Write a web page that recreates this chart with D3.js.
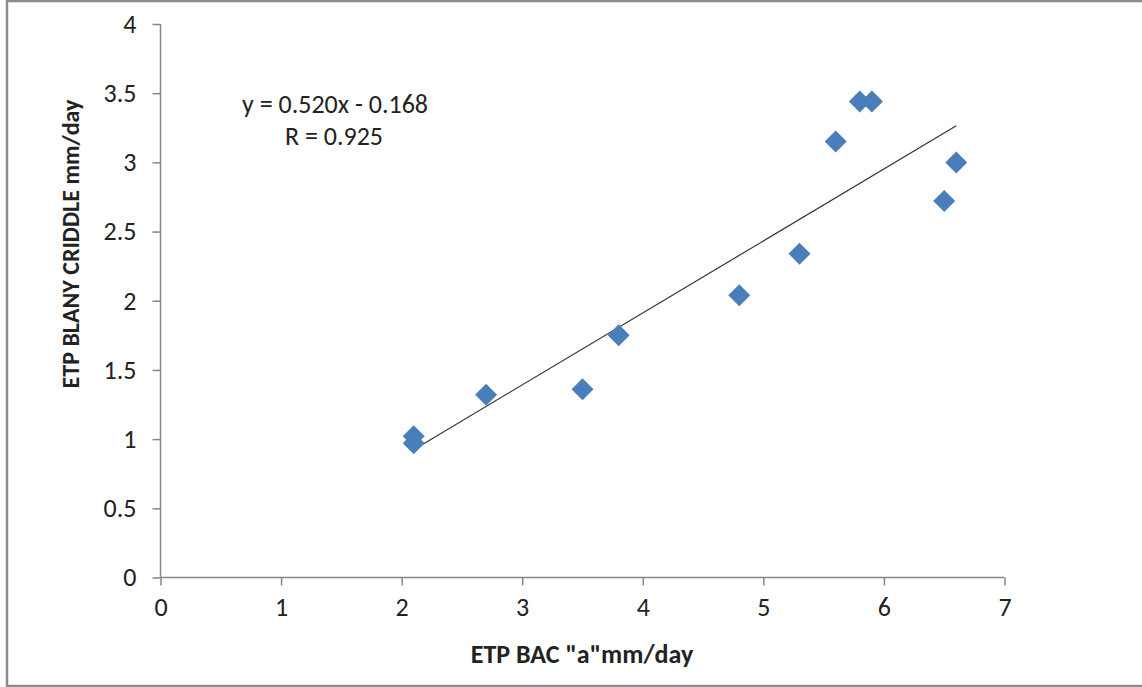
<!DOCTYPE html>
<html>
<head>
<meta charset="utf-8">
<script src="https://cdn.jsdelivr.net/npm/d3@7"></script>
<style>
  body { margin: 0; background: #fff; }
  text { font-family: Carlito, Calibri, Lato, "Liberation Sans", sans-serif; fill: #222; }
</style>
</head>
<body>
<svg id="chart" width="1142" height="687"></svg>
<script>
var xValues = [2.1, 2.1, 2.7, 3.5, 3.8, 4.8, 5.3, 5.6, 5.8, 5.9, 6.5, 6.6];
var yValues = [1.02, 0.97, 1.32, 1.36, 1.75, 2.04, 2.34, 3.15, 3.44, 3.44, 2.72, 3.0];
var xTicks = [0, 1, 2, 3, 4, 5, 6, 7];
var yTicks = [0, 0.5, 1, 1.5, 2, 2.5, 3, 3.5, 4];
var slope = 0.520, intercept = -0.168, rValue = 0.925;

function scatterChart() {
  var svg = d3.select("#chart");
  var plotLeft = 160.5, plotRight = 1004.5, plotTop = 24, plotBottom = 577.5;
  var fontSize = 26;

  // outer frame
  svg.append("rect")
    .attr("x", 7).attr("y", 1)
    .attr("width", 1150).attr("height", 685)
    .attr("fill", "none").attr("stroke", "#8c8c8c").attr("stroke-width", 2.5);

  var x = d3.scaleLinear().domain([0, 7]).range([plotLeft, plotRight]);
  var y = d3.scaleLinear().domain([0, 4]).range([plotBottom, plotTop]);

  var xAxis = d3.axisBottom(x).tickValues(xTicks).tickSize(8).tickPadding(12).tickFormat(d3.format("d"));
  var yAxis = d3.axisLeft(y).tickValues(yTicks).tickSize(8).tickPadding(16).tickFormat(function(d) { return String(d); });

  var gx = svg.append("g").attr("transform", "translate(0," + plotBottom + ")").call(xAxis);
  var gy = svg.append("g").attr("transform", "translate(" + plotLeft + ",0)").call(yAxis);

  [gx, gy].forEach(function(g) {
    g.attr("font-family", null);
    g.selectAll("path").attr("stroke", "#868686").attr("stroke-width", 1.5);
    g.selectAll("line").attr("stroke", "#868686").attr("stroke-width", 1.5);
    g.selectAll("text").attr("font-size", fontSize).attr("fill", "#222");
  });
  gx.select("path").attr("d", "M" + plotLeft + ",0H" + plotRight);
  gy.select("path").attr("d", "M0," + plotBottom + "V" + plotTop);

  // trend line drawn over data range
  var xMin = d3.min(xValues), xMax = d3.max(xValues);
  svg.append("line")
    .attr("x1", x(xMin)).attr("y1", y(slope * xMin + intercept))
    .attr("x2", x(xMax)).attr("y2", y(slope * xMax + intercept))
    .attr("stroke", "#333").attr("stroke-width", 1.2);

  // diamond markers
  var pts = xValues.map(function(v, i) { return [v, yValues[i]]; });
  svg.selectAll(".pt")
    .data(pts)
    .enter().append("path")
    .attr("class", "pt")
    .attr("d", "M0,-11L11,0L0,11L-11,0Z")
    .attr("transform", function(d) { return "translate(" + x(d[0]) + "," + y(d[1]) + ")"; })
    .attr("fill", "#4a7ebb");

  // equation label
  svg.append("text")
    .attr("x", 335).attr("y", 113)
    .attr("text-anchor", "middle").attr("font-size", fontSize)
    .text("y = " + slope.toFixed(3) + "x - " + Math.abs(intercept).toFixed(3));
  svg.append("text")
    .attr("x", 334).attr("y", 145)
    .attr("text-anchor", "middle").attr("font-size", fontSize)
    .text("R = " + rValue.toFixed(3));

  // axis titles
  svg.append("text")
    .attr("x", 582).attr("y", 663)
    .attr("text-anchor", "middle").attr("font-size", fontSize).attr("font-weight", "bold")
    .text('ETP BAC "a"mm/day');
  svg.append("text")
    .attr("transform", "translate(79,244) rotate(-90)")
    .attr("text-anchor", "middle").attr("font-size", 24).attr("font-weight", "bold")
    .text("ETP BLANY CRIDDLE mm/day");
}

scatterChart();
</script>
</body>
</html>
